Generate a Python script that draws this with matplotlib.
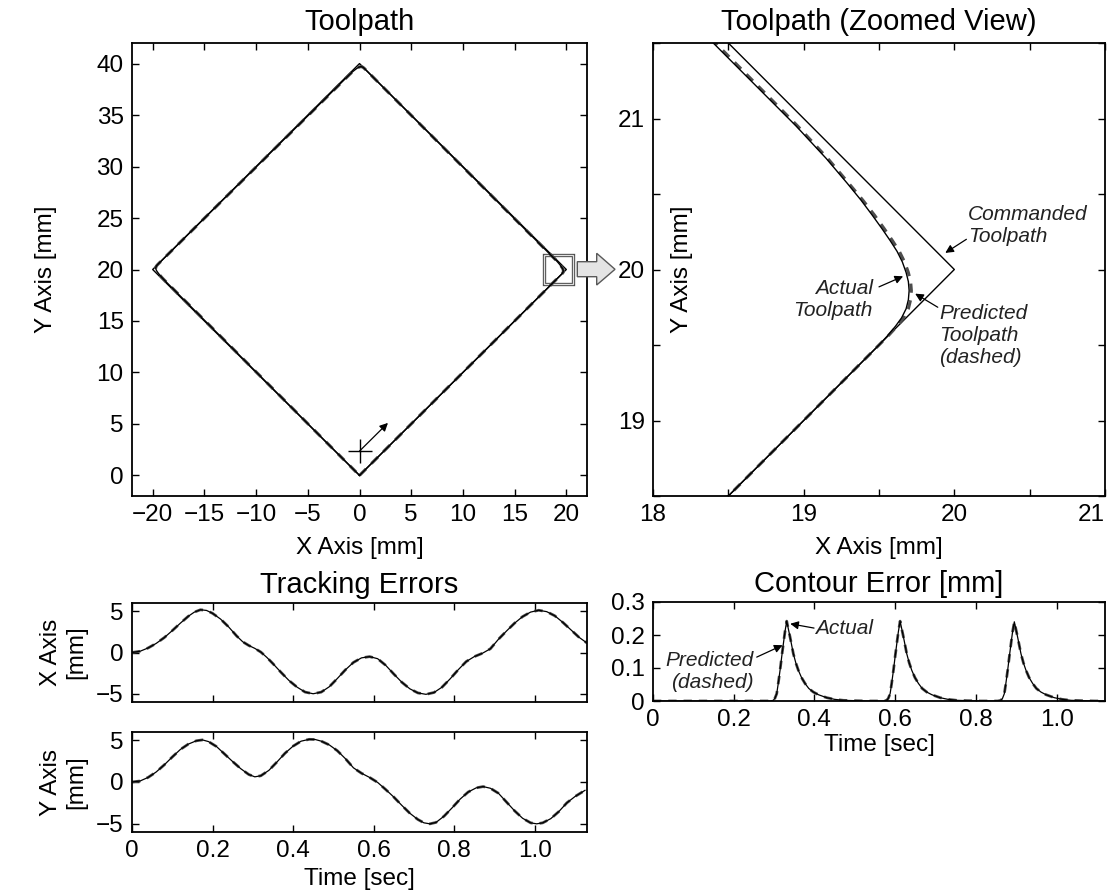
import numpy as np
import matplotlib
matplotlib.use('Agg')
import matplotlib.pyplot as plt
from matplotlib.patches import Rectangle, Polygon

plt.rcParams['font.family'] = ['Liberation Sans', 'DejaVu Sans']
plt.rcParams['font.size'] = 17.5
plt.rcParams['axes.linewidth'] = 1.3

# ---------------- datos ----------------
# trayectoria comandada (rombo)
cmd_x = [0, 20, 0, -20, 0]
cmd_y = [0, 20, 40, 20, 0]

# trayectoria real cerca de cada esquina
act_A_x = [19.40, 19.50, 19.56, 19.61, 19.65, 19.68, 19.695, 19.70, 19.695, 19.68, 19.655, 19.62,
           19.575, 19.52, 19.455, 19.38, 19.29, 19.15, 18.95, 18.40]
act_A_y = [19.40, 19.50, 19.565, 19.625, 19.68, 19.74, 19.80, 19.86, 19.92, 19.98, 20.05, 20.12,
           20.19, 20.27, 20.36, 20.46, 20.57, 20.735, 20.95, 21.50]
act_B_x = [0.60, 0.435, 0.32, 0.20, 0.14, 0.08, 0.02, -0.05, -0.12, -0.19, -0.27, -0.36, -0.57, -0.735, -0.95]
act_B_y = [39.40, 39.56, 39.65, 39.695, 39.70, 39.695, 39.68, 39.655, 39.62, 39.575, 39.52, 39.455, 39.29, 39.15, 38.95]
act_C_x = [-19.40, -19.56, -19.65, -19.695, -19.70, -19.695, -19.68, -19.655, -19.62, -19.575, -19.52, -19.455,
           -19.29, -19.15, -18.95]
act_C_y = [20.60, 20.435, 20.32, 20.20, 20.14, 20.08, 20.02, 19.95, 19.88, 19.81, 19.73, 19.64,
           19.43, 19.265, 19.05]

# trayectoria predicha (esquina A, algo mas afuera que la real)
pred_A_x = [19.40, 19.50, 19.565, 19.62, 19.665, 19.695, 19.71, 19.715, 19.71, 19.695, 19.67, 19.635,
            19.59, 19.535, 19.47, 19.392, 19.30, 19.16, 18.96, 18.415]
pred_A_y = act_A_y

# errores de seguimiento [mm]
t_ex = [0.000, 0.020, 0.040, 0.060, 0.080, 0.100, 0.120, 0.140, 0.155, 0.170, 0.185, 0.200, 0.220,
        0.240, 0.260, 0.275, 0.290, 0.305, 0.320, 0.335, 0.350, 0.370, 0.390, 0.410, 0.430, 0.450,
        0.470, 0.490, 0.510, 0.530, 0.550, 0.570, 0.590, 0.610, 0.630, 0.650, 0.670, 0.690, 0.710,
        0.730, 0.750, 0.770, 0.790, 0.810, 0.830, 0.850, 0.870, 0.890, 0.910, 0.930, 0.950, 0.970,
        0.990, 1.010, 1.030, 1.050, 1.070, 1.090, 1.110, 1.130]
err_x = [0.00, 0.15, 0.55, 1.10, 1.80, 2.65, 3.55, 4.40, 4.90, 5.18, 5.10, 4.75, 4.05,
         3.10, 2.00, 1.30, 0.85, 0.50, 0.05, -0.60, -1.35, -2.40, -3.40, -4.20, -4.80, -5.00,
         -4.80, -4.15, -3.15, -2.10, -1.20, -0.65, -0.50, -0.75, -1.55, -2.60, -3.60, -4.40, -4.90,
         -5.07, -4.85, -4.20, -3.20, -2.10, -1.10, -0.50, -0.10, 0.45, 1.60, 2.60, 3.55, 4.35,
         4.90, 5.12, 4.95, 4.45, 3.65, 2.75, 1.85, 1.15]

t_ey = [0.000, 0.020, 0.040, 0.060, 0.080, 0.100, 0.120, 0.140, 0.160, 0.175, 0.190, 0.210, 0.230,
        0.250, 0.270, 0.290, 0.305, 0.320, 0.340, 0.360, 0.380, 0.400, 0.420, 0.440, 0.455, 0.470,
        0.490, 0.510, 0.530, 0.550, 0.570, 0.590, 0.610, 0.630, 0.650, 0.670, 0.690, 0.710, 0.725,
        0.740, 0.755, 0.775, 0.795, 0.815, 0.835, 0.855, 0.872, 0.890, 0.910, 0.930, 0.950, 0.970,
        0.990, 1.005, 1.020, 1.040, 1.060, 1.080, 1.100, 1.125]
err_y = [0.00, 0.12, 0.55, 1.20, 2.05, 3.00, 3.90, 4.55, 4.95, 5.05, 4.85, 4.25, 3.35,
         2.45, 1.60, 0.90, 0.62, 0.75, 1.40, 2.40, 3.45, 4.30, 4.90, 5.12, 5.10, 4.90,
         4.45, 3.75, 2.80, 1.70, 1.05, 0.55, -0.05, -0.90, -1.80, -2.80, -3.75, -4.50, -4.90,
         -5.02, -4.85, -4.10, -3.10, -2.05, -1.20, -0.70, -0.55, -0.75, -1.35, -2.40, -3.45, -4.35,
         -4.90, -5.02, -4.90, -4.40, -3.55, -2.50, -1.75, -1.00]

# error de contorno [mm], un pico por cada esquina
t_ce = [0.0,
        0.290, 0.298, 0.302, 0.3065, 0.310, 0.3148, 0.319, 0.3231, 0.327, 0.3313, 0.3396, 0.3478, 0.354,
        0.3602, 0.368, 0.3768, 0.386, 0.3974, 0.410, 0.4305, 0.450, 0.4718, 0.530,
        0.571, 0.579, 0.583, 0.5875, 0.591, 0.5958, 0.600, 0.6041, 0.608, 0.6123, 0.6206, 0.6288, 0.635,
        0.6412, 0.649, 0.6578, 0.667, 0.6784, 0.691, 0.7115, 0.731, 0.7528, 0.811,
        0.854, 0.862, 0.866, 0.8705, 0.874, 0.8788, 0.883, 0.8871, 0.891, 0.8953, 0.9036, 0.9118, 0.918,
        0.9242, 0.932, 0.9408, 0.950, 0.9614, 0.974, 0.9945, 1.014, 1.0358, 1.094,
        1.12]
ce_act = [0.0,
          0.0, 0.002, 0.008, 0.022, 0.050, 0.093, 0.135, 0.174, 0.210, 0.242, 0.194, 0.143, 0.115,
          0.093, 0.071, 0.053, 0.038, 0.027, 0.019, 0.010, 0.005, 0.002, 0.0,
          0.0, 0.002, 0.008, 0.022, 0.050, 0.093, 0.135, 0.174, 0.210, 0.242, 0.194, 0.143, 0.115,
          0.093, 0.071, 0.053, 0.038, 0.027, 0.019, 0.010, 0.005, 0.002, 0.0,
          0.0, 0.002, 0.008, 0.022, 0.050, 0.093, 0.135, 0.174, 0.210, 0.240, 0.193, 0.143, 0.115,
          0.093, 0.071, 0.053, 0.038, 0.027, 0.019, 0.010, 0.005, 0.002, 0.0,
          0.0]

# marcador de inicio
start_xy = (0.0, 2.36)


def estilo(ax):
    """Ticks hacia adentro en los cuatro lados (estilo MATLAB)"""
    ax.tick_params(direction='in', top=True, right=True, length=5, width=1, pad=6)


def dibujar_trayectoria(ax):
    act_x = [0] + act_A_x + act_B_x + act_C_x + [0]
    act_y = [0] + act_A_y + act_B_y + act_C_y + [0]
    pred_x = [0] + pred_A_x + act_B_x + act_C_x + [0]
    pred_y = [0] + pred_A_y + act_B_y + act_C_y + [0]
    ax.plot(cmd_x, cmd_y, color='k', lw=1.0)
    ax.plot(pred_x, pred_y, color='0.3', lw=2.2, dashes=(3, 2.5))
    ax.plot(act_x, act_y, color='k', lw=1.0)


fig = plt.figure(figsize=(11.09, 8.94), dpi=100)
W, H = 1109.0, 894.0


def caja(l, t, r, b):
    return [l / W, 1 - b / H, (r - l) / W, (b - t) / H]


# ---- Toolpath ----
ax1 = fig.add_axes(caja(132, 43, 587, 496))
dibujar_trayectoria(ax1)
ax1.plot(*start_xy, marker='+', ms=17, mew=1.0, color='k')
ax1.annotate('', xy=(2.75, 5.1), xytext=start_xy,
             arrowprops=dict(arrowstyle='-|>', lw=0.9, color='k', mutation_scale=12, shrinkA=0, shrinkB=0))
ax1.add_patch(Rectangle((17.86, 18.62), 2.77, 2.77, fill=False, ec='0.3', lw=2.4))
ax1.add_patch(Rectangle((17.86, 18.62), 2.77, 2.77, fill=False, ec='0.88', lw=0.9))
ax1.set_xlim(-22, 22)
ax1.set_ylim(-2, 42)
ax1.set_xticks(np.arange(-20, 21, 5))
ax1.set_yticks(np.arange(0, 41, 5))
ax1.set_title('Toolpath', pad=9)
ax1.set_xlabel('X Axis [mm]')
ax1.set_ylabel('Y Axis [mm]')
ax1.xaxis.set_label_coords(0.5, -0.09)
ax1.yaxis.set_label_coords(-0.165, 0.5)
estilo(ax1)

# ---- Toolpath (Zoomed View) ----
ax2 = fig.add_axes(caja(653, 43, 1105, 496))
dibujar_trayectoria(ax2)
ax2.set_xlim(18, 21)
ax2.set_ylim(18.5, 21.5)
ax2.set_xticks(np.arange(18, 21.01, 0.5))
ax2.set_xticklabels(['18', '', '19', '', '20', '', '21'])
ax2.get_xticklabels()[-1].set_ha('right')
ax2.set_yticks(np.arange(18.5, 21.51, 0.5))
ax2.set_yticklabels(['', '19', '', '20', '', '21', ''])
ax2.set_title('Toolpath (Zoomed View)', pad=9)
ax2.set_xlabel('X Axis [mm]')
ax2.set_ylabel('Y Axis [mm]')
ax2.xaxis.set_label_coords(0.5, -0.09)
ax2.yaxis.set_label_coords(0.0885, 0.5)
estilo(ax2)

flecha = dict(arrowstyle='-|>', lw=0.9, color='k', mutation_scale=12, shrinkA=0, shrinkB=0)
tx = dict(fontsize=15, style='italic', color='#222')
ax2.text(20.09, 20.29, 'Commanded\nToolpath', ha='left', va='center', linespacing=1.2, **tx)
ax2.annotate('', xy=(19.94, 20.11), xytext=(20.08, 20.20), arrowprops=flecha)
ax2.text(19.46, 19.80, 'Actual\nToolpath', ha='right', va='center', linespacing=1.2, **tx)
ax2.annotate('', xy=(19.66, 19.955), xytext=(19.50, 19.885), arrowprops=flecha)
ax2.text(19.90, 19.56, 'Predicted\nToolpath\n(dashed)', ha='left', va='center', linespacing=1.2, **tx)
ax2.annotate('', xy=(19.74, 19.84), xytext=(19.89, 19.75), arrowprops=flecha)

# flecha gruesa entre los dos paneles
pts = [(577.3, 261.7), (596.7, 261.7), (596.7, 253.3), (615, 269.3),
       (596.7, 285), (596.7, 276.7), (577.3, 276.7)]
fig.patches.append(Polygon([(x / W, 1 - y / H) for x, y in pts], closed=True,
                           transform=fig.transFigure, fc='#e4e4e4', ec='0.35', lw=1.0))

# ---- Tracking Errors ----
ax3 = fig.add_axes(caja(132, 603, 587, 702))
ax3.plot(t_ex, err_x, color='0.3', lw=2.0, dashes=(3, 2.5))
ax3.plot(t_ex, err_x, color='k', lw=0.9)
ax3.set_xlim(0, 1.13)
ax3.set_ylim(-6, 6)
ax3.set_yticks([-5, 0, 5])
ax3.set_xticks(np.arange(0, 1.01, 0.2))
ax3.set_xticklabels([])
ax3.set_title('Tracking Errors', pad=7)
ax3.set_ylabel('X Axis\n[mm]', linespacing=1.2)
ax3.yaxis.set_label_coords(-0.099, 0.5)
estilo(ax3)

ax4 = fig.add_axes(caja(132, 732, 587, 832))
ax4.plot(t_ey, err_y, color='0.3', lw=2.0, dashes=(3, 2.5))
ax4.plot(t_ey, err_y, color='k', lw=0.9)
ax4.set_xlim(0, 1.13)
ax4.set_ylim(-6, 6)
ax4.set_yticks([-5, 0, 5])
ax4.set_xticks(np.arange(0, 1.01, 0.2))
ax4.set_xticklabels(['0', '0.2', '0.4', '0.6', '0.8', '1.0'])
ax4.set_xlabel('Time [sec]')
ax4.xaxis.set_label_coords(0.5, -0.36)
ax4.set_ylabel('Y Axis\n[mm]', linespacing=1.2)
ax4.yaxis.set_label_coords(-0.099, 0.5)
estilo(ax4)

# ---- Contour Error ----
ax5 = fig.add_axes(caja(653, 602, 1105, 701))
ax5.plot(t_ce, ce_act, color='0.3', lw=2.0, dashes=(3, 2.5))
ax5.plot(t_ce, ce_act, color='k', lw=0.9)
ax5.set_xlim(0, 1.12)
ax5.set_ylim(0, 0.3)
ax5.set_yticks([0, 0.1, 0.2, 0.3])
ax5.set_yticklabels(['0', '0.1', '0.2', '0.3'])
ax5.set_xticks(np.arange(0, 1.01, 0.2))
ax5.set_xticklabels(['0', '0.2', '0.4', '0.6', '0.8', '1.0'])
ax5.set_title('Contour Error [mm]', pad=7)
ax5.set_xlabel('Time [sec]')
ax5.xaxis.set_label_coords(0.5, -0.33)
estilo(ax5)
ax5.text(0.401, 0.219, 'Actual', ha='left', va='center', **tx)
ax5.annotate('', xy=(0.340, 0.234), xytext=(0.399, 0.221), arrowprops=flecha)
ax5.text(0.249, 0.09, 'Predicted\n(dashed)', ha='right', va='center', linespacing=1.2, **tx)
ax5.annotate('', xy=(0.321, 0.169), xytext=(0.257, 0.133), arrowprops=flecha)

fig.savefig('out.png', dpi=100)
